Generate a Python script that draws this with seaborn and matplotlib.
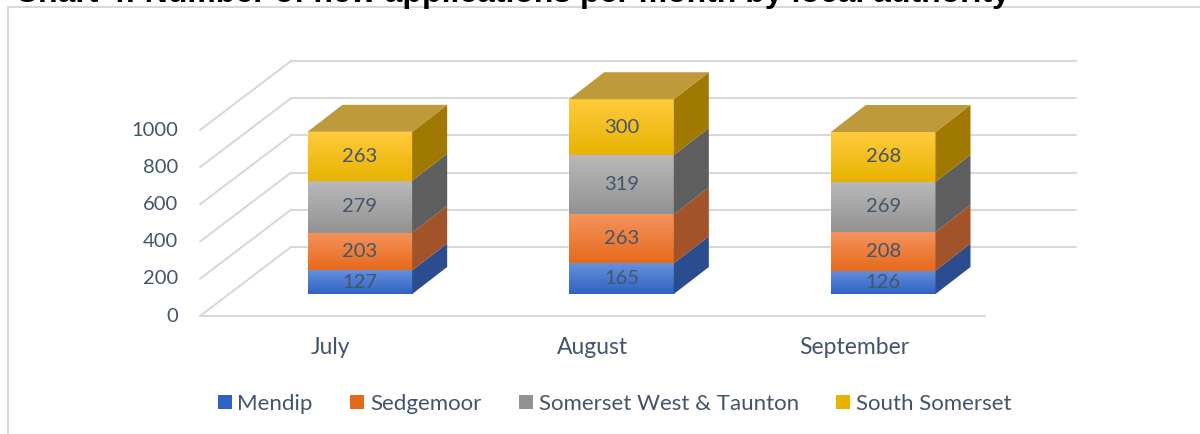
import numpy as np
import matplotlib
matplotlib.use("Agg")
import matplotlib.pyplot as plt
import pandas as pd
import seaborn as sns
from matplotlib.patches import Polygon, Patch, Rectangle
from matplotlib.lines import Line2D
from matplotlib.transforms import IdentityTransform
from matplotlib.colors import LinearSegmentedColormap

# data
months = ["July", "August", "September"]
authorities = ["Mendip", "Sedgemoor", "Somerset West & Taunton", "South Somerset"]
mendip = [127, 165, 126]
sedgemoor = [203, 263, 208]
somerset_wt = [279, 319, 269]
south_somerset = [263, 300, 268]
y_ticks = [0, 200, 400, 600, 800, 1000]
title = "Chart 4: Number of new applications per month by local authority"

# excel-like colours
front_top = ["#6690DC", "#F4935C", "#B9B9B9", "#FFCB3D"]
front_bottom = ["#2F62C2", "#E66A1C", "#929292", "#E8B300"]
side_cols = ["#2B4C8E", "#A3532A", "#5E5E5E", "#A07A00"]
top_col = "#BF9A3A"
text_col = "#44546A"
grid_col = "#D9D9D9"

sns.set_theme(style="white")
plt.rcParams["font.family"] = ["Lato", "DejaVu Sans"]

W, H = 1200, 434
fig = plt.figure(figsize=(W / 100, H / 100), dpi=100)
# axes = bar plane, 0..1100 (1000 units ~ 186 px)
ax = fig.add_axes([229 / W, 140 / H, 785 / W, 186 * 1.1 / H])

series = [mendip, sedgemoor, somerset_wt, south_somerset]
cum = np.cumsum(np.array(series), axis=0)
df = pd.DataFrame({"month": months})

# stacked bars: tallest stack first, lower segments drawn over it
for i in range(len(series) - 1, -1, -1):
    df["val"] = cum[i]
    sns.barplot(data=df, x="month", y="val", color=front_bottom[i], width=0.4,
                saturation=1, errorbar=None, ax=ax, zorder=2)

bar_x = [(p.get_x(), p.get_x() + p.get_width()) for p in ax.patches[:len(months)]]

# gradient on the front faces
grad = np.linspace(0, 1, 64).reshape(-1, 1)
for i in range(len(series)):
    cmap = LinearSegmentedColormap.from_list("g%d" % i, [front_bottom[i], front_top[i]])
    for j in range(len(months)):
        b = cum[i - 1][j] if i > 0 else 0
        t = cum[i][j]
        x0, x1 = bar_x[j]
        ax.imshow(grad, cmap=cmap, extent=[x0, x1, b, t], origin="lower",
                  aspect="auto", zorder=3)
        ax.text((x0 + x1) / 2, (b + t) / 2, str(series[i][j]), ha="center", va="center",
                fontsize=14.5, color=text_col, zorder=6)

ax.set_xlim(-0.5, 2.5)
ax.set_ylim(0, 1100)
ax.axis("off")


def to_px(x, y):
    return ax.transData.transform((x, y))


ident = IdentityTransform()
dx, dy = 35, 27          # bar depth
fx, fy = -29, -22        # front plane offset
bx, by = 62, 47          # back wall offset

# side and top faces
for j in range(len(months)):
    x0, x1 = bar_x[j]
    for i in range(len(series)):
        b = cum[i - 1][j] if i > 0 else 0
        t = cum[i][j]
        X, Yb = to_px(x1, b)
        _, Yt = to_px(x1, t)
        side = Polygon([(X, Yb), (X, Yt), (X + dx, Yt + dy), (X + dx, Yb + dy)],
                       closed=True, facecolor=side_cols[i], edgecolor="none",
                       transform=ident, zorder=4, clip_on=False)
        ax.add_patch(side)
    X0, Yt = to_px(x0, cum[-1][j])
    X1, _ = to_px(x1, cum[-1][j])
    top = Polygon([(X0, Yt), (X1, Yt), (X1 + dx, Yt + dy), (X0 + dx, Yt + dy)],
                  closed=True, facecolor=top_col, edgecolor="none",
                  transform=ident, zorder=4, clip_on=False)
    ax.add_patch(top)

# walls and gridlines
for v in y_ticks:
    L = to_px(-0.5, v)
    R = to_px(2.5, v)
    ax.add_line(Line2D([L[0] + fx, L[0] + bx], [L[1] + fy, L[1] + by], color=grid_col,
                       lw=1.5, transform=ident, zorder=0, clip_on=False))
    ax.add_line(Line2D([L[0] + bx, R[0] + bx], [L[1] + by, R[1] + by], color=grid_col,
                       lw=1.5, transform=ident, zorder=0, clip_on=False))
    fig.text(L[0] + fx - 22, L[1] + fy, str(v), transform=ident, ha="right", va="center",
             fontsize=14.5, color=text_col)
L0 = to_px(-0.5, 0)
R0 = to_px(2.5, 0)
ax.add_line(Line2D([L0[0] + fx, R0[0] + fx], [L0[1] + fy, R0[1] + fy], color=grid_col,
                   lw=1.5, transform=ident, zorder=0, clip_on=False))

for j, m in enumerate(months):
    X, Y = to_px(j, 0)
    fig.text(X + fx, Y + fy - 31, m, transform=ident, ha="center", va="center",
             fontsize=16.5, color=text_col)

# chart area border and title (mostly cut off at the top, as in the source image)
fig.add_artist(Rectangle((7.5, -10), 1210, H - 7 + 10, transform=ident, fill=False,
                         edgecolor=grid_col, lw=1.5))
fig.text(15, H - 2, title, transform=ident, ha="left", va="baseline", fontsize=23,
         fontweight="bold", family=["Liberation Sans", "DejaVu Sans"], color="black")

handles = [Patch(facecolor=front_bottom[i], edgecolor="none") for i in range(len(authorities))]
fig.legend(handles, authorities, loc="center", bbox_to_anchor=(614.5 / W, 1 - 404 / H),
           ncol=4, frameon=False, fontsize=16, labelcolor=text_col,
           handlelength=0.63, handleheight=0.63, handletextpad=0.25, columnspacing=1.7)

fig.savefig("out.png", dpi=100)
